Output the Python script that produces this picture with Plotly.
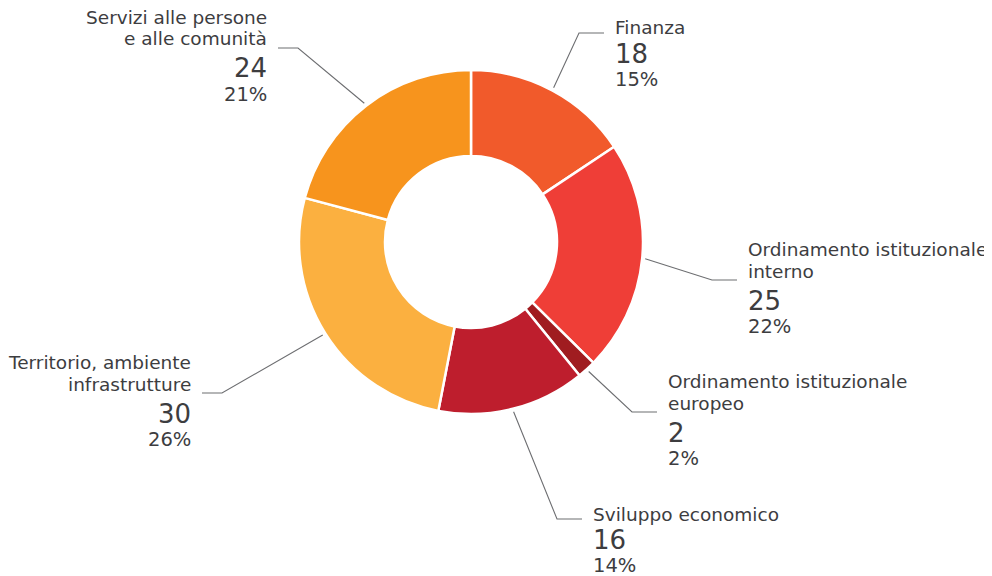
import math
import plotly.graph_objects as go

# ---- data ----
categories = ["Finanza", "Ordinamento istituzionale interno", "Ordinamento istituzionale europeo",
              "Sviluppo economico", "Territorio, ambiente infrastrutture",
              "Servizi alle persone e alle comunità"]
label_lines = [["Finanza"], ["Ordinamento istituzionale", "interno"],
               ["Ordinamento istituzionale", "europeo"], ["Sviluppo economico"],
               ["Territorio, ambiente", "infrastrutture"],
               ["Servizi alle persone", "e alle comunità"]]
values = [18, 25, 2, 16, 30, 24]
percent_labels = ["15%", "22%", "2%", "14%", "26%", "21%"]
colors = ["#F15A2B", "#EF3E37", "#A01C20", "#BE1E2D", "#FBB040", "#F7941D"]

# ---- layout constants (pixels, in the screenshot frame) ----
W, H = 992, 576
OFF = 8  # page body margin
CX, CY, R = 471, 242, 172
# label anchor: (elbow x, elbow y, side) ; side +1 = text on right, -1 = text on left
anchors = [(579, 33, 1), (712, 280, 1), (632, 412, 1), (557, 519, 1), (222, 393, -1), (298, 48, -1)]
TXT = "#3d3d3f"
FONT = "DejaVu Sans"

def px(x):
    return (x - OFF) / W

def py(y):
    return 1 - (y - OFF) / H

fig = go.Figure(go.Pie(
    labels=categories, values=values, sort=False, direction="clockwise", rotation=0,
    hole=0.5, marker=dict(colors=colors, line=dict(color="white", width=2.5)),
    textinfo="none", hoverinfo="label+value", showlegend=False,
    domain=dict(x=[px(CX - R), px(CX + R)], y=[py(CY + R), py(CY - R)]),
))

shapes = []
annotations = []
total = sum(values)
cum = 0
for i, v in enumerate(values):
    mid = (cum + v / 2) / total * 2 * math.pi
    cum += v
    sx = CX + (R + 3) * math.sin(mid)
    sy = CY - (R + 3) * math.cos(mid)
    ex, ey, side = anchors[i]
    hx = ex + (25 if side > 0 else -20)
    shapes.append(dict(type="path", xref="paper", yref="paper",
                       path=f"M {px(sx)},{py(sy)} L {px(ex)},{py(ey)} L {px(hx)},{py(ey)}",
                       line=dict(color="#6d6e71", width=1.1)))
    tx = hx + side * 9
    xa = "left" if side > 0 else "right"
    lines = label_lines[i]
    n = len(lines)
    last = ey - 5 if n == 1 else ey - 9
    for k, t in enumerate(lines):
        yy = last - (n - 1 - k) * 21.5
        annotations.append(dict(x=px(tx), y=py(yy), xref="paper", yref="paper", text=t,
                                showarrow=False, xanchor=xa, yanchor="middle",
                                font=dict(family=FONT, size=18.5, color=TXT)))
    annotations.append(dict(x=px(tx), y=py(ey + 20.5), xref="paper", yref="paper", text=str(v),
                            showarrow=False, xanchor=xa, yanchor="middle",
                            font=dict(family=FONT, size=26, color=TXT)))
    annotations.append(dict(x=px(tx), y=py(ey + 46.5), xref="paper", yref="paper",
                            text=percent_labels[i], showarrow=False, xanchor=xa, yanchor="middle",
                            font=dict(family=FONT, size=19.5, color=TXT)))

fig.update_layout(width=W, height=H, margin=dict(l=0, r=0, t=0, b=0),
                  paper_bgcolor="white", plot_bgcolor="white",
                  shapes=shapes, annotations=annotations)
fig.write_html("out.html")
